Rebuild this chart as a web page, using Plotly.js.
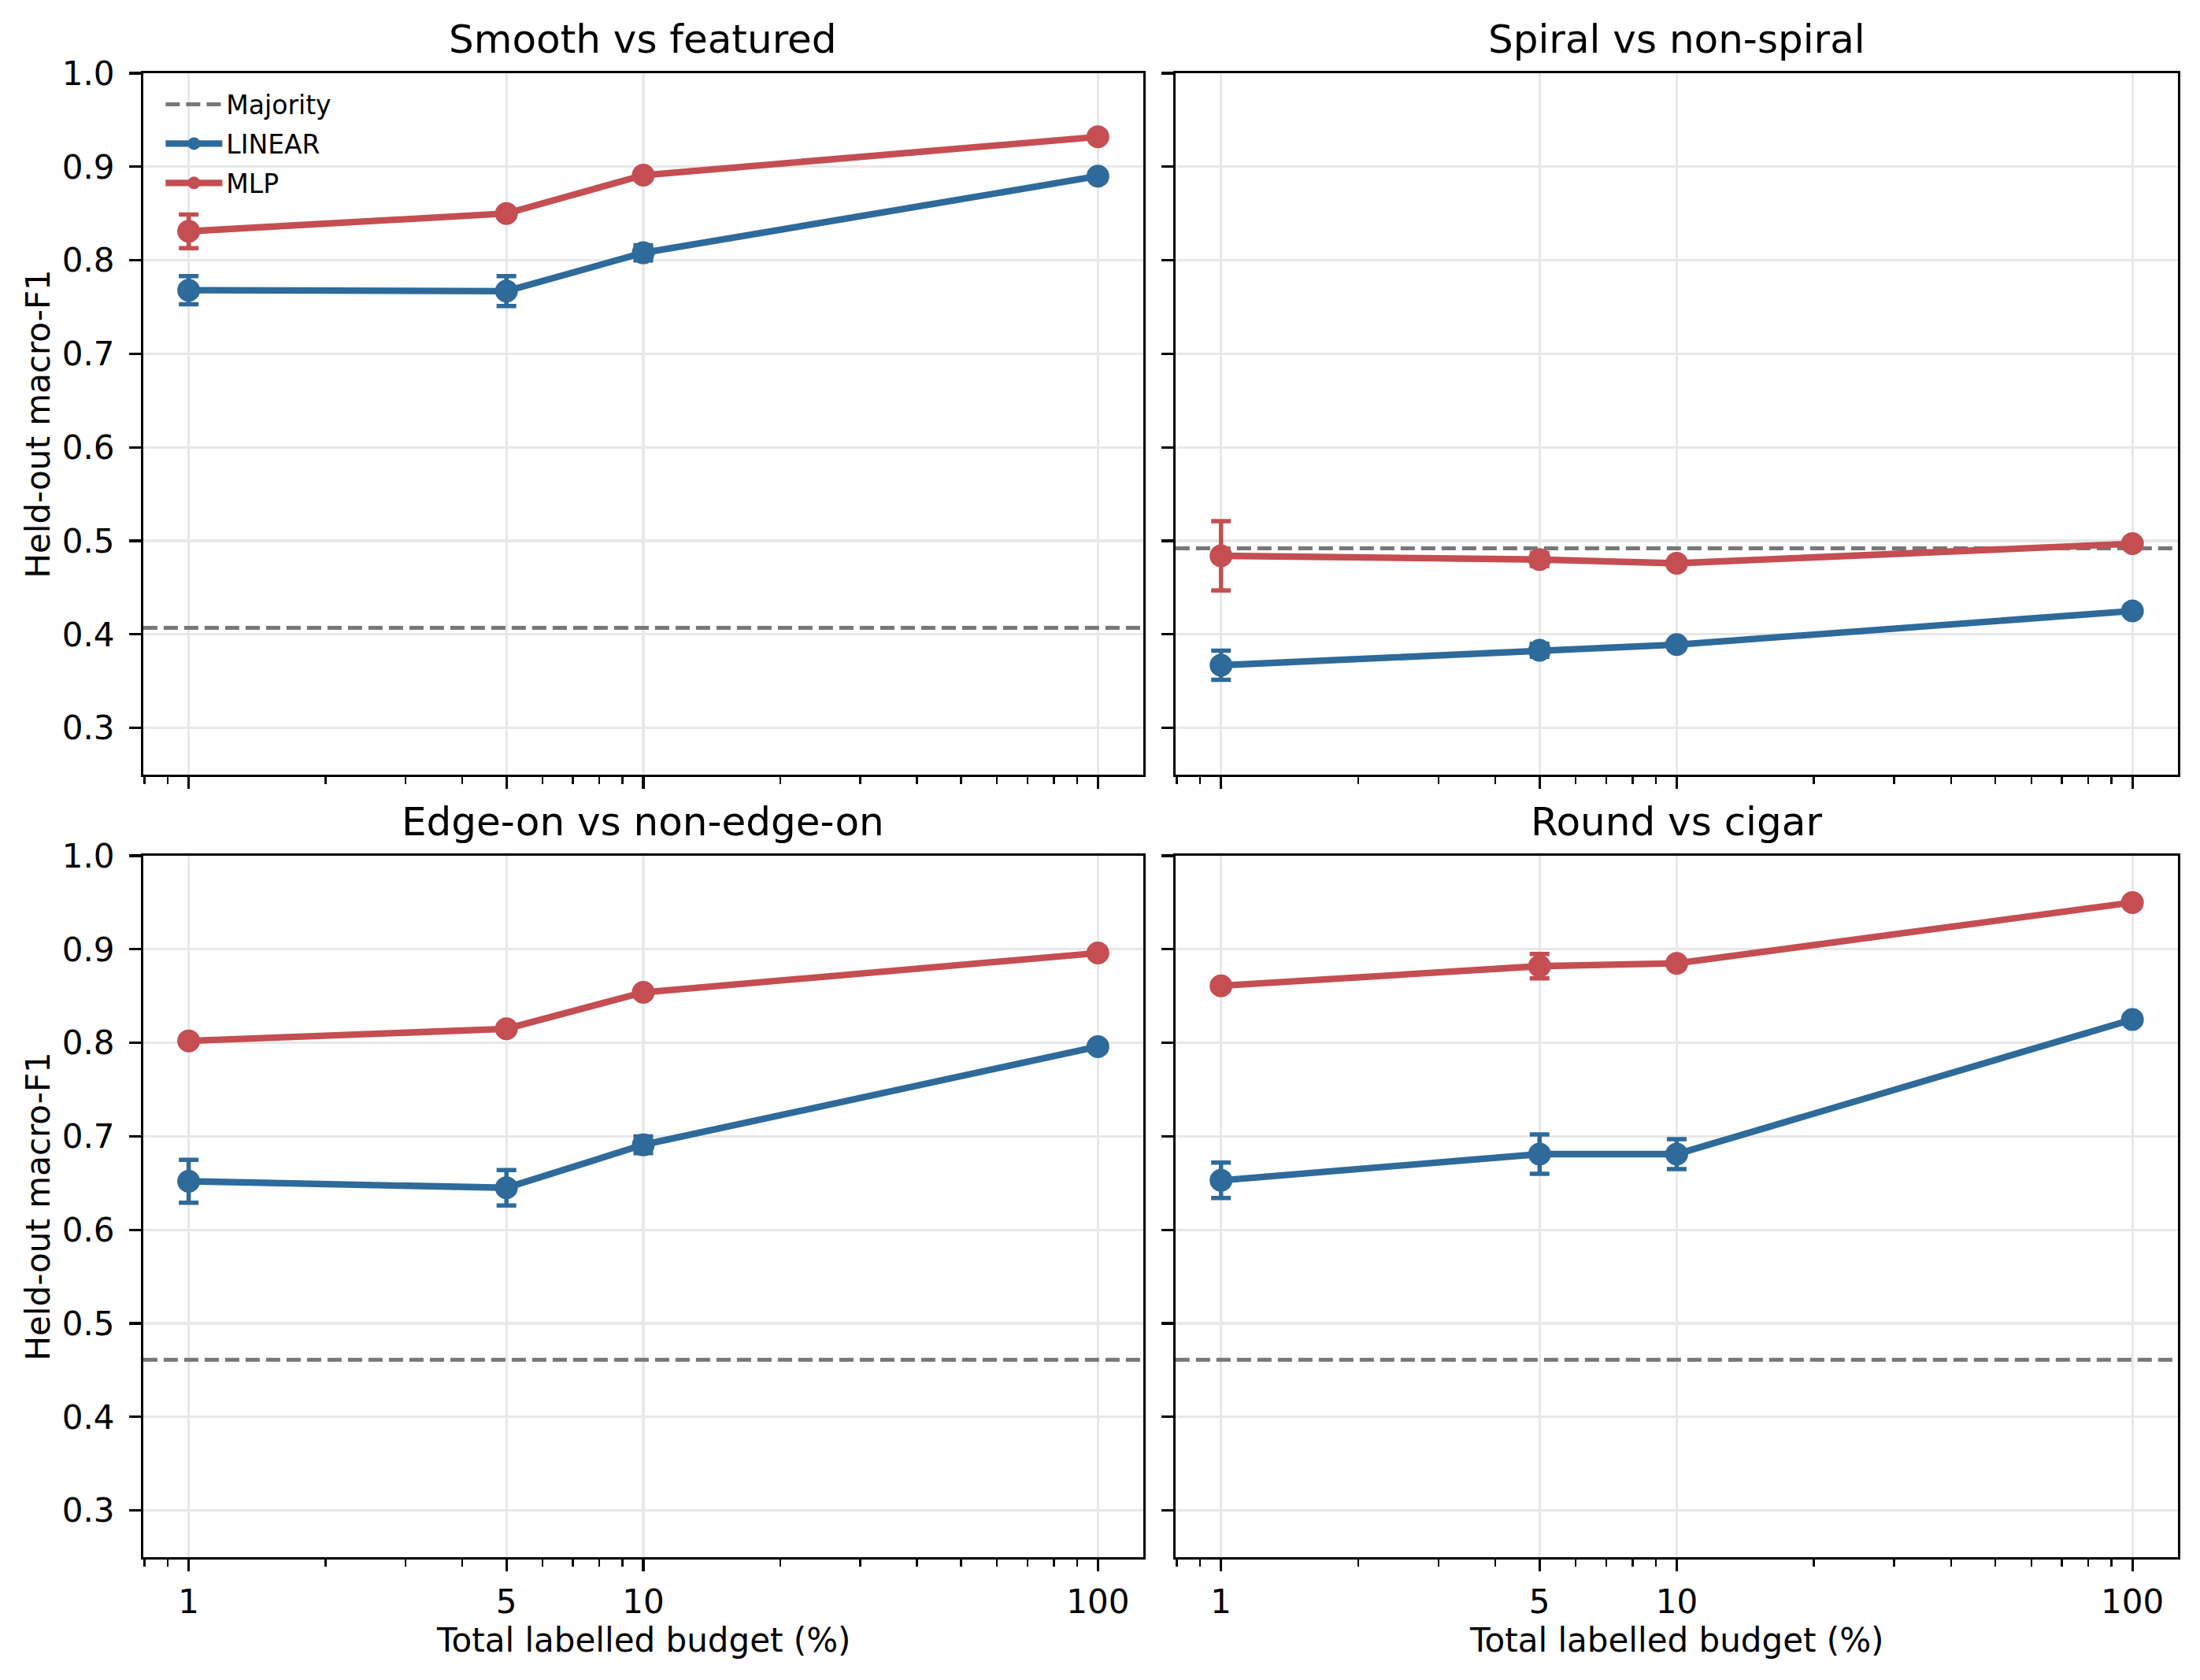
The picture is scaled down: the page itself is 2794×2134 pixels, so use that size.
<!DOCTYPE html>
<html>
<head>
<meta charset="utf-8">
<script src="https://cdn.plot.ly/plotly-3.0.1.min.js"></script>
<style>html,body{margin:0;padding:0;background:#fff;}#chart{width:2794px;height:2134px;}</style>
</head>
<body>
<div id="chart"></div>
<script>
// ---- data ----
const budgets = [1, 5, 10, 100];
const budgetLabels = ["1", "5", "10", "100"];
const panelTitles = ["Smooth vs featured", "Spiral vs non-spiral", "Edge-on vs non-edge-on", "Round vs cigar"];
const majority = [0.407, 0.492, 0.461, 0.461];

const linearSmooth = [0.768, 0.767, 0.808, 0.890];
const linearSmoothErr = [0.015, 0.016, 0.008, 0.004];
const mlpSmooth = [0.831, 0.850, 0.891, 0.932];
const mlpSmoothErr = [0.018, 0.004, 0.004, 0.003];

const linearSpiral = [0.367, 0.383, 0.389, 0.425];
const linearSpiralErr = [0.0155, 0.007, 0.004, 0.003];
const mlpSpiral = [0.484, 0.480, 0.476, 0.497];
const mlpSpiralErr = [0.037, 0.007, 0.004, 0.003];

const linearEdge = [0.652, 0.645, 0.691, 0.796];
const linearEdgeErr = [0.023, 0.019, 0.009, 0.004];
const mlpEdge = [0.802, 0.815, 0.854, 0.896];
const mlpEdgeErr = [0.004, 0.004, 0.004, 0.004];

const linearRound = [0.653, 0.681, 0.681, 0.825];
const linearRoundErr = [0.019, 0.021, 0.016, 0.004];
const mlpRound = [0.861, 0.882, 0.885, 0.950];
const mlpRoundErr = [0.004, 0.013, 0.004, 0.004];

const yTicks = [0.3, 0.4, 0.5, 0.6, 0.7, 0.8, 0.9, 1.0];

// ---- styling ----
const BLUE = "#2e6a9a";
const RED = "#c44e52";
const FONT = "DejaVu Sans, Liberation Sans, sans-serif";
const xRangeLog = [-0.1, 2.1];
const yRange = [0.25, 1.0];

const linearSets = [[linearSmooth, linearSmoothErr], [linearSpiral, linearSpiralErr], [linearEdge, linearEdgeErr], [linearRound, linearRoundErr]];
const mlpSets = [[mlpSmooth, mlpSmoothErr], [mlpSpiral, mlpSpiralErr], [mlpEdge, mlpEdgeErr], [mlpRound, mlpRoundErr]];

// minor ticks for log axis
const minorX = [];
for (let d = -1; d <= 2; d++) {
  for (let m = 2; m <= 9; m++) {
    const v = m * Math.pow(10, d);
    if (Math.log10(v) > xRangeLog[0] && Math.log10(v) < xRangeLog[1] && budgets.indexOf(v) < 0) minorX.push(v);
  }
}

const xDomains = [[0.0651, 0.5197], [0.5343, 0.9900]];
const yDomains = [[0.5389, 0.9564], [0.0731, 0.4906]];

const traces = [];
const xMin = Math.pow(10, xRangeLog[0]);
const xMax = Math.pow(10, xRangeLog[1]);

for (let p = 0; p < 4; p++) {
  const sfx = p === 0 ? "" : String(p + 1);
  const xa = "x" + sfx, ya = "y" + sfx;
  traces.push({
    x: [xMin, xMax], y: [majority[p], majority[p]], xaxis: xa, yaxis: ya,
    mode: "lines", name: "Majority", legendgroup: "maj", showlegend: p === 0,
    line: {color: "#777777", width: 5, dash: "18px,8px"}, hoverinfo: "skip"
  });
  traces.push({
    x: budgets, y: linearSets[p][0], xaxis: xa, yaxis: ya,
    mode: "lines+markers", name: "LINEAR", legendgroup: "lin", showlegend: p === 0,
    line: {color: BLUE, width: 8.3}, marker: {color: BLUE, size: 29},
    error_y: {type: "data", array: linearSets[p][1], visible: true, color: BLUE, thickness: 5.5, width: 12.5}
  });
  traces.push({
    x: budgets, y: mlpSets[p][0], xaxis: xa, yaxis: ya,
    mode: "lines+markers", name: "MLP", legendgroup: "mlp", showlegend: p === 0,
    line: {color: RED, width: 8.3}, marker: {color: RED, size: 29},
    error_y: {type: "data", array: mlpSets[p][1], visible: true, color: RED, thickness: 5.5, width: 12.5}
  });
}

const layout = {
  width: 2794, height: 2134,
  margin: {l: 0, r: 0, t: 0, b: 0},
  paper_bgcolor: "#ffffff", plot_bgcolor: "#ffffff",
  font: {family: FONT, size: 42, color: "#000"},
  showlegend: true,
  legend: {
    x: 0.0735, y: 0.951, xanchor: "left", yanchor: "top",
    font: {family: FONT, size: 33, color: "#000"},
    bgcolor: "rgba(255,255,255,0)", borderwidth: 0,
    tracegroupgap: 4, itemwidth: 72
  },
  annotations: [],
  shapes: []
};

for (let p = 0; p < 4; p++) {
  const col = p % 2, row = Math.floor(p / 2);
  const sfx = p === 0 ? "" : String(p + 1);
  layout["xaxis" + sfx] = {
    type: "log", range: xRangeLog, domain: xDomains[col], anchor: "y" + sfx,
    tickmode: "array", tickvals: budgets, ticktext: budgetLabels,
    showticklabels: row === 1,
    ticks: "outside", ticklen: 14.6, tickwidth: 3.3, tickcolor: "#000",
    ticklabelstandoff: 3,
    tickfont: {family: FONT, size: 42, color: "#000"},
    showline: true, mirror: true, linecolor: "#000", linewidth: 3.3,
    showgrid: true, gridcolor: "#e8e8e8", gridwidth: 3.3, zeroline: false,
    minor: {tickmode: "array", tickvals: minorX, ticks: "outside", ticklen: 8.3, tickwidth: 2.5, tickcolor: "#000", showgrid: false}
  };
  layout["yaxis" + sfx] = {
    range: yRange, domain: yDomains[row], anchor: "x" + sfx,
    tickmode: "array", tickvals: yTicks, ticktext: yTicks.map(v => v.toFixed(1)),
    showticklabels: col === 0,
    ticks: "outside", ticklen: 14.6, tickwidth: 3.3, tickcolor: "#000",
    ticklabelstandoff: 10,
    tickfont: {family: FONT, size: 42, color: "#000"},
    showline: true, mirror: true, linecolor: "#000", linewidth: 3.3,
    showgrid: true, gridcolor: "#e8e8e8", gridwidth: 3.3, zeroline: false
  };
  layout.annotations.push({
    text: panelTitles[p], xref: "paper", yref: "paper",
    x: (xDomains[col][0] + xDomains[col][1]) / 2, y: yDomains[row][1],
    xanchor: "center", yanchor: "bottom", yshift: 12, showarrow: false,
    font: {family: FONT, size: 50, color: "#000"}
  });
}
// axis titles
for (let row = 0; row < 2; row++) {
  layout.annotations.push({
    text: "Held-out macro-F1", xref: "paper", yref: "paper",
    x: 0.0172, y: (yDomains[row][0] + yDomains[row][1]) / 2,
    xanchor: "center", yanchor: "middle", textangle: -90, showarrow: false,
    font: {family: FONT, size: 42, color: "#000"}
  });
}
for (let col = 0; col < 2; col++) {
  layout.annotations.push({
    text: "Total labelled budget (%)", xref: "paper", yref: "paper",
    x: (xDomains[col][0] + xDomains[col][1]) / 2, y: 0.0235,
    xanchor: "center", yanchor: "middle", showarrow: false,
    font: {family: FONT, size: 42, color: "#000"}
  });
}

Plotly.newPlot("chart", traces, layout, {staticPlot: true, displayModeBar: false});
</script>
</body>
</html>
